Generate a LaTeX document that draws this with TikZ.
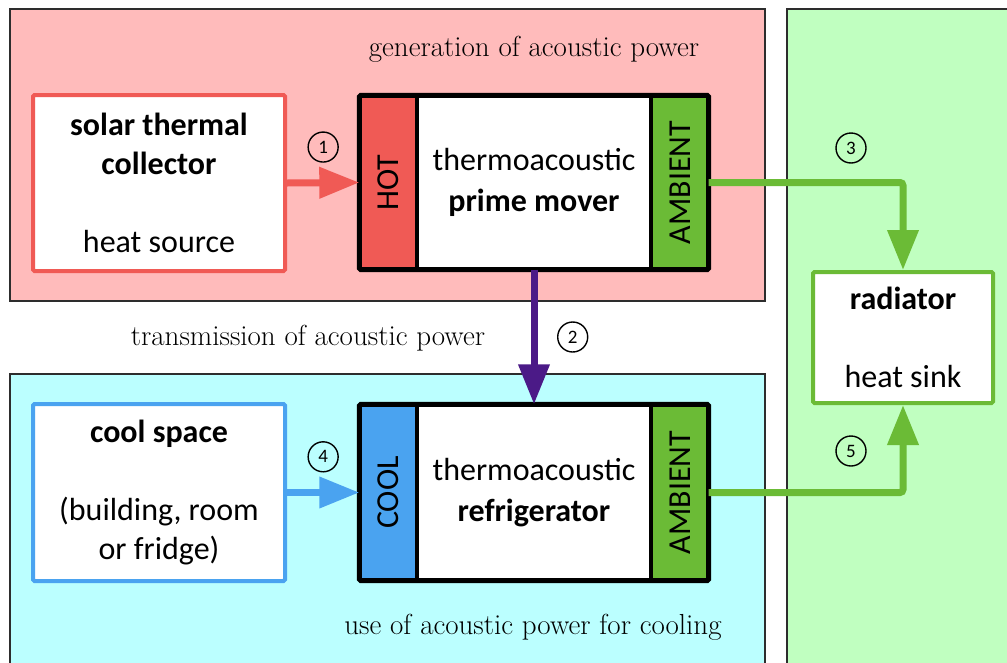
\documentclass[tikz,border=0pt]{standalone}
\usepackage{fontspec}
\setsansfont{Carlito}
\usepackage{tikz}
\usetikzlibrary{arrows.meta,positioning}
\definecolor{genpink}{RGB}{255,187,187}
\definecolor{usecyan}{RGB}{187,255,255}
\definecolor{sinkgreen}{RGB}{192,255,192}
\definecolor{hotred}{RGB}{240,90,85}
\definecolor{ambgreen}{RGB}{107,187,54}
\definecolor{coolblue}{RGB}{74,163,240}
\definecolor{powerpurple}{RGB}{75,26,135}
\definecolor{panelline}{RGB}{45,45,45}
\tikzset{
  panel/.style={draw=panelline,line width=1.3pt},
  outer/.style={draw,fill=white,line width=4pt,rounded corners=1.5pt,
                minimum width=252pt,minimum height=176pt,inner sep=0pt,
                align=center,font=\sffamily\fontsize{32}{39}\selectfont},
  engine/.style={fill=white,minimum width=349pt,minimum height=174pt,inner sep=0pt,
                 align=center,font=\sffamily\fontsize{32}{41}\selectfont},
  strip/.style={minimum width=57.5pt,minimum height=174pt,inner sep=0pt,
                font=\sffamily\fontsize{32}{32}\selectfont},
  enginebox/.style={draw=black,line width=5pt,rounded corners=1.5pt},
  divider/.style={draw=black,line width=4pt},
  heatflow/.style={line width=7pt,rounded corners=3pt,-{Triangle[length=40pt,width=30pt]}},
  numcirc/.style={circle,draw=black,text=black,line width=1.4pt,minimum size=30pt,
                  inner sep=0pt,font=\sffamily\fontsize{19}{19}\selectfont},
  stage/.style={inner sep=0pt,font=\rmfamily\fontsize{29}{29}\selectfont},
}

\begin{document}
\begin{tikzpicture}[x=1pt,y=-1pt]
  \useasboundingbox (0,0) rectangle (1007,662);
  % --- panels
  \draw[panel,fill=genpink] (10,9) rectangle (765,301);
  \draw[panel,fill=usecyan] (10,374) rectangle (765,690);
  \draw[panel,fill=sinkgreen] (787,9) rectangle (1030,690);
  \node[stage] (genlabel) at (534,49) {generation of acoustic power};
  \node[stage] (translabel) at (308,338) {transmission of acoustic power};
  \node[stage] (uselabel) at (533,627) {use of acoustic power for cooling};
  % --- prime mover
  \node[outer,draw=hotred] (solar) at (159,183)
    {\textbf{solar thermal}\\\textbf{collector}\\[39pt]heat source};
  \node[engine] (mover) at (534,182.5) {thermoacoustic\\\textbf{prime mover}};
  \node[strip,fill=hotred] (hot) at (388.25,182.5) {\rotatebox{90}{HOT}};
  \node[strip,fill=ambgreen] (ambA) at (679.75,182.5) {\rotatebox{90}{AMBIENT}};
  \draw[divider] (hot.north east) -- (hot.south east);
  \draw[divider] (ambA.north west) -- (ambA.south west);
  \draw[enginebox] (mover.north west) rectangle (mover.south east);
  % --- radiator
  \node[outer,draw=ambgreen,minimum width=180pt,minimum height=131pt] (radiator) at (903,337.5)
    {\textbf{radiator}\\[39pt]heat sink};
  % --- refrigerator
  \node[outer,draw=coolblue,minimum height=177pt] (cool) at (159,492.5)
    {\textbf{cool space}\\[39pt](building, room\\or fridge)};
  \node[engine,minimum height=176pt] (fridge) at (534,492.5) {thermoacoustic\\\textbf{refrigerator}};
  \node[strip,minimum height=176pt,fill=coolblue] (coolside) at (388.25,492.5) {\rotatebox{90}{COOL}};
  \node[strip,minimum height=176pt,fill=ambgreen] (ambB) at (679.75,492.5) {\rotatebox{90}{AMBIENT}};
  \draw[divider] (coolside.north east) -- (coolside.south east);
  \draw[divider] (ambB.north west) -- (ambB.south west);
  \draw[enginebox] (fridge.north west) rectangle (fridge.south east);
  % --- flows
  \draw[heatflow,hotred] (solar.east) -- (hot.west)
    node[numcirc,midway,above=20pt] (num1) {1};
  \draw[heatflow,powerpurple] (mover.south) -- (fridge.north)
    node[numcirc,midway,right=23pt] (num2) {2};
  \draw[heatflow,ambgreen] (ambA.east) -| (radiator.north);
  \node[numcirc] (num3) at (851,148) {3};
  \draw[heatflow,coolblue] (cool.east) -- (coolside.west)
    node[numcirc,midway,above=20pt] (num4) {4};
  \draw[heatflow,ambgreen] (ambB.east) -| (radiator.south);
  \node[numcirc] (num5) at (851,451) {5};
\end{tikzpicture}
\end{document}
